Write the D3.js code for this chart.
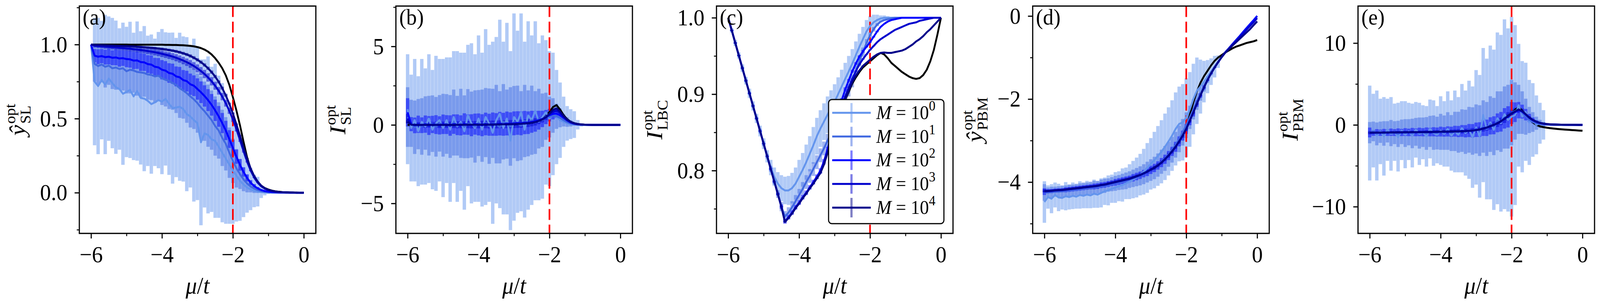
<!DOCTYPE html>
<html><head><meta charset="utf-8">
<script src="https://cdn.jsdelivr.net/npm/d3@7"></script>
<style>html,body{margin:0;padding:0;background:#fff;overflow:hidden}svg{display:block;width:100vw;height:100vh}text{font-family:'Liberation Serif','DejaVu Serif',serif}</style>
</head><body><svg id="chart" viewBox="0 0 4397 784" preserveAspectRatio="none"></svg>
<script>
// ---------------- DATA ----------------
const xs = [-6.0,-5.9,-5.8,-5.7,-5.6,-5.5,-5.4,-5.3,-5.2,-5.1,-5.0,-4.9,-4.8,-4.7,-4.6,-4.5,-4.4,-4.3,-4.2,-4.1,-4.0,-3.9,-3.8,-3.7,-3.6,-3.5,-3.4,-3.3,-3.2,-3.1,-3.0,-2.9,-2.8,-2.7,-2.6,-2.5,-2.4,-2.3,-2.2,-2.1,-2.0,-1.9,-1.8,-1.7,-1.6,-1.5,-1.4,-1.3,-1.2,-1.1,-1.0,-0.9,-0.8,-0.7,-0.6,-0.5,-0.4,-0.3,-0.2,-0.1,0.0];
const seriesLabels = ["0","1","2","3","4"]; // M = 10^k
const criticalMu = -2;
const xTicks = [-6,-4,-2,0];
const xMinorTicks = [-5,-3,-1];

// (a) y_SL
const aExact = [1.0,
1.0,1.0,1.0,1.0,1.0,1.0,1.0,1.0,1.0,1.0,
0.999,0.999,0.999,0.999,0.999,0.999,0.999,0.999,0.999,0.999,
0.998,0.998,0.997,0.997,0.996,0.995,0.993,0.991,0.988,0.983,
0.976,0.966,0.952,0.933,0.908,0.877,0.840,0.792,0.728,0.645,
0.555,0.455,0.345,0.240,0.160,0.105,0.070,0.047,0.031,0.021,
0.014,0.009,0.006,0.004,0.003,0.002,0.001,0.001,0,0];
const aM0 = [1.0,
0.750,0.720,0.760,0.730,0.770,0.740,0.712,0.700,0.668,0.680,
0.694,0.650,0.686,0.640,0.635,0.620,0.598,0.610,0.625,0.615,
0.633,0.600,0.571,0.575,0.580,0.565,0.530,0.515,0.490,0.470,
0.340,0.400,0.390,0.360,0.350,0.310,0.270,0.230,0.190,0.150,
0.115,0.080,0.055,0.035,0.022,0.012,0.007,0.004,0.002,0.001,
0,0,0,0,0,0,0,0,0,0];
const aM1 = [1.0,
0.870,0.855,0.865,0.850,0.858,0.840,0.845,0.835,0.840,0.820,
0.830,0.825,0.815,0.812,0.808,0.798,0.795,0.785,0.790,0.772,
0.762,0.755,0.740,0.728,0.705,0.690,0.672,0.650,0.630,0.605,
0.575,0.550,0.520,0.490,0.450,0.420,0.370,0.330,0.270,0.215,
0.165,0.125,0.090,0.062,0.042,0.028,0.018,0.011,0.007,0.004,
0.003,0.002,0.001,0.001,0,0,0,0,0,0];
const aM2 = [1.0,
0.925,0.918,0.922,0.915,0.918,0.911,0.913,0.906,0.908,0.902,
0.900,0.892,0.893,0.882,0.880,0.868,0.865,0.850,0.846,0.830,
0.824,0.808,0.803,0.785,0.779,0.760,0.753,0.732,0.722,0.700,
0.678,0.653,0.625,0.593,0.556,0.515,0.470,0.420,0.362,0.302,
0.243,0.188,0.140,0.100,0.068,0.045,0.029,0.018,0.011,0.007,
0.004,0.003,0.002,0.001,0.001,0,0,0,0,0];
const aM3 = [1.0,
0.992,0.990,0.988,0.986,0.984,0.982,0.980,0.978,0.976,0.974,
0.972,0.969,0.966,0.963,0.960,0.956,0.952,0.948,0.943,0.938,
0.932,0.926,0.919,0.911,0.902,0.892,0.881,0.869,0.855,0.839,
0.821,0.801,0.778,0.752,0.722,0.688,0.649,0.604,0.553,0.495,
0.428,0.355,0.280,0.210,0.150,0.102,0.067,0.043,0.027,0.017,
0.011,0.007,0.004,0.003,0.002,0.001,0.001,0,0,0];
const aM4 = [1.0,
0.998,0.997,0.996,0.995,0.994,0.993,0.992,0.991,0.990,0.989,
0.988,0.987,0.985,0.984,0.982,0.980,0.978,0.976,0.973,0.970,
0.967,0.963,0.959,0.954,0.948,0.941,0.933,0.923,0.911,0.897,
0.881,0.862,0.840,0.814,0.784,0.748,0.706,0.657,0.600,0.535,
0.462,0.385,0.305,0.230,0.165,0.113,0.075,0.048,0.030,0.019,
0.012,0.007,0.004,0.003,0.002,0.001,0.001,0,0,0];
const aE0 = [0,
0.43,0.46,0.40,0.47,0.42,0.44,0.45,0.41,0.48,0.44,
0.46,0.43,0.47,0.45,0.49,0.44,0.47,0.43,0.46,0.49,
0.45,0.48,0.51,0.47,0.50,0.49,0.52,0.48,0.55,0.52,
0.56,0.50,0.53,0.49,0.52,0.48,0.47,0.44,0.40,0.36,
0.31,0.27,0.22,0.17,0.14,0.11,0.10,0.04,0.02,0.01,
0,0,0,0,0,0,0,0,0,0];
const aE1 = [0,
0.12,0.13,0.12,0.14,0.13,0.14,0.15,0.14,0.15,0.15,
0.16,0.15,0.16,0.17,0.16,0.17,0.17,0.18,0.17,0.18,
0.18,0.19,0.18,0.19,0.20,0.19,0.20,0.21,0.20,0.20,
0.21,0.20,0.21,0.20,0.20,0.19,0.19,0.18,0.17,0.15,
0.13,0.10,0.08,0.06,0.04,0.03,0.02,0.01,0.005,0,
0,0,0,0,0,0,0,0,0,0];
const aE2 = [0,
0.045,0.050,0.048,0.050,0.052,0.050,0.053,0.055,0.052,0.055,
0.056,0.058,0.057,0.060,0.058,0.060,0.062,0.060,0.063,0.065,
0.064,0.066,0.068,0.067,0.070,0.068,0.070,0.072,0.070,0.072,
0.073,0.072,0.074,0.073,0.072,0.070,0.068,0.065,0.060,0.055,
0.048,0.040,0.032,0.024,0.017,0.012,0.008,0.005,0.003,0.002,
0,0,0,0,0,0,0,0,0,0];
const aE3 = [0,
0.012,0.013,0.013,0.014,0.014,0.015,0.015,0.016,0.016,0.017,
0.017,0.018,0.018,0.019,0.019,0.020,0.020,0.021,0.021,0.022,
0.022,0.023,0.023,0.024,0.024,0.025,0.025,0.026,0.026,0.027,
0.027,0.028,0.028,0.028,0.027,0.026,0.025,0.023,0.021,0.018,
0.015,0.012,0.009,0.007,0.005,0.003,0.002,0.001,0,0,
0,0,0,0,0,0,0,0,0,0];
const aE4 = [0,
0.004,0.004,0.004,0.005,0.005,0.005,0.005,0.006,0.006,0.006,
0.006,0.007,0.007,0.007,0.007,0.008,0.008,0.008,0.008,0.009,
0.009,0.009,0.009,0.010,0.010,0.010,0.010,0.011,0.011,0.011,
0.011,0.011,0.011,0.011,0.011,0.010,0.010,0.009,0.008,0.007,
0.006,0.005,0.004,0.003,0.002,0.001,0.001,0,0,0,
0,0,0,0,0,0,0,0,0,0];

// (b) I_SL
const bExact = [0,
0,0,0,0,0,0,0,0,0,0,
0,0,0,0.005,0.005,0.005,0.01,0.01,0.01,0.01,
0.015,0.015,0.02,0.02,0.025,0.03,0.035,0.04,0.045,0.05,
0.06,0.07,0.09,0.11,0.14,0.19,0.26,0.37,0.55,0.82,
1.14,1.26,0.98,0.62,0.36,0.20,0.11,0.06,0.03,0.015,
0.008,0.004,0.002,0.001,0,0,0,0,0,0];
const bM0 = [1.0,
-0.2,0.3,-0.4,0.2,-0.1,0.4,-0.3,0.1,0.3,-0.2,
0.3,-0.3,0.5,-0.1,0.2,-0.4,0.6,0.1,-0.2,0.4,
-0.3,0.5,0.1,-0.5,0.3,0.7,-0.2,0.4,-1.0,0.5,
0.2,0.8,-0.3,0.6,0.3,0.9,0.2,0.5,0.8,0.4,
0.7,0.5,0.3,0.2,0.1,0.05,0.02,0.01,0,0,
0,0,0,0,0,0,0,0,0,0];
const bM1 = [0.5,
0.10,-0.15,0.05,-0.10,0.12,-0.05,0.08,-0.12,0.10,-0.02,
0.06,-0.10,0.15,-0.05,0.10,-0.12,0.08,0.02,-0.10,0.12,
-0.05,0.15,-0.08,0.10,0.05,-0.15,0.20,0.05,-0.10,0.18,
0.10,-0.05,0.25,0.10,0.30,0.15,0.40,0.30,0.55,0.50,
0.60,0.55,0.45,0.30,0.18,0.10,0.05,0.02,0.01,0,
0,0,0,0,0,0,0,0,0,0];
const bM2 = [0.8,
0.05,-0.03,0.04,-0.02,0.05,-0.04,0.03,0.02,-0.03,0.04,
0.02,-0.04,0.05,0.01,-0.03,0.06,0.02,-0.02,0.05,0.03,
-0.02,0.06,0.01,0.05,0.03,0.08,0.04,0.09,0.06,0.10,
0.12,0.10,0.15,0.14,0.20,0.23,0.30,0.38,0.50,0.62,
0.70,0.72,0.62,0.45,0.28,0.15,0.08,0.04,0.02,0.01,
0.005,0.002,0,0,0,0,0,0,0,0];
const bM3 = [0.4,
0.02,0.01,0,0.01,0,0.01,0,0.01,0,0.01,
0.01,0,0.01,0.01,0.01,0.01,0.02,0.01,0.02,0.02,
0.02,0.03,0.02,0.03,0.03,0.04,0.04,0.05,0.05,0.06,
0.07,0.08,0.10,0.12,0.15,0.19,0.26,0.35,0.48,0.65,
0.84,0.90,0.76,0.52,0.31,0.18,0.10,0.05,0.025,0.012,
0.006,0.003,0.001,0,0,0,0,0,0,0];
const bM4 = [0.2,
0.01,0,0,0,0,0,0,0,0,0,
0,0,0,0.005,0.005,0.005,0.01,0.01,0.01,0.01,
0.015,0.015,0.02,0.02,0.025,0.03,0.035,0.04,0.045,0.05,
0.06,0.07,0.09,0.11,0.14,0.18,0.25,0.35,0.50,0.72,
0.96,1.05,0.85,0.56,0.33,0.19,0.10,0.05,0.025,0.012,
0.006,0.003,0.001,0,0,0,0,0,0,0];
const bE0 = [3.5,
3.4,3.9,3.5,4.0,3.7,4.1,3.8,4.3,3.9,4.4,
4.0,4.6,4.2,4.8,4.4,5.0,4.5,5.1,4.7,5.3,
4.9,5.6,5.0,5.8,5.3,6.0,5.5,6.1,5.7,6.6,
5.8,6.3,5.6,6.0,5.4,5.7,5.0,5.2,4.6,4.3,
3.9,3.0,2.4,1.6,1.1,0.95,0.85,0.3,0.1,0,
0,0,0,0,0,0,0,0,0,0];
const bE1 = [1.9,
1.5,1.7,1.6,1.8,1.7,1.9,1.8,1.9,1.8,2.0,
1.9,2.0,2.1,1.9,2.2,2.0,2.2,2.1,2.3,2.1,
2.3,2.2,2.4,2.2,2.5,2.3,2.4,2.2,2.5,2.3,
2.4,2.2,2.3,2.1,2.2,2.0,1.9,1.7,1.5,1.3,
1.1,0.8,0.6,0.4,0.3,0.2,0.1,0.05,0,0,
0,0,0,0,0,0,0,0,0,0];
const bE2 = [0.9,
0.45,0.50,0.55,0.50,0.55,0.60,0.55,0.60,0.58,0.62,
0.60,0.65,0.62,0.66,0.64,0.68,0.65,0.70,0.67,0.70,
0.70,0.72,0.70,0.74,0.72,0.75,0.73,0.76,0.74,0.76,
0.75,0.76,0.74,0.72,0.70,0.66,0.60,0.52,0.45,0.40,
0.35,0.28,0.20,0.14,0.09,0.05,0.03,0.02,0.01,0,
0,0,0,0,0,0,0,0,0,0];
const bE3 = [0.3,
0.15,0.16,0.17,0.17,0.18,0.18,0.19,0.19,0.20,0.20,
0.20,0.21,0.21,0.22,0.22,0.22,0.23,0.23,0.23,0.24,
0.24,0.24,0.25,0.25,0.25,0.25,0.26,0.26,0.26,0.26,
0.26,0.26,0.25,0.25,0.24,0.23,0.21,0.19,0.17,0.15,
0.13,0.10,0.08,0.06,0.04,0.03,0.02,0.01,0,0,
0,0,0,0,0,0,0,0,0,0];
const bE4 = [0.1,
0.05,0.05,0.05,0.06,0.06,0.06,0.06,0.06,0.07,0.07,
0.07,0.07,0.07,0.07,0.08,0.08,0.08,0.08,0.08,0.08,
0.08,0.08,0.08,0.08,0.09,0.09,0.09,0.09,0.09,0.09,
0.09,0.09,0.09,0.09,0.08,0.08,0.07,0.07,0.06,0.05,
0.05,0.04,0.03,0.02,0.015,0.01,0.005,0,0,0,
0,0,0,0,0,0,0,0,0,0];

// (c) I_LBC
const cExact = [1.0,
0.9835,0.967,0.9506,0.9341,0.9176,0.9011,0.8846,0.8682,0.8517,0.8352,
0.8187,0.8022,0.7858,0.7693,0.7528,0.733,0.738,0.744,0.751,0.757,
0.764,0.770,0.777,0.783,0.790,0.797,0.808,0.823,0.838,0.853,
0.867,0.880,0.892,0.903,0.914,0.922,0.929,0.935,0.939,0.943,
0.947,0.951,0.954,0.952,0.947,0.941,0.937,0.933,0.929,0.926,
0.923,0.921,0.920,0.921,0.925,0.932,0.943,0.958,0.978,1.0];
const cM0 = [1.0,
0.9835,0.967,0.9506,0.9341,0.9176,0.9011,0.8846,0.8682,0.8517,0.8352,
0.8187,0.804,0.792,0.783,0.777,0.774,0.774,0.777,0.783,0.792,
0.801,0.811,0.822,0.833,0.845,0.855,0.864,0.873,0.882,0.890,
0.900,0.910,0.920,0.930,0.940,0.951,0.962,0.972,0.982,0.989,
0.994,0.997,0.999,1.0,1.0,1.0,1.0,1.0,1.0,1.0,
1.0,1.0,1.0,1.0,1.0,1.0,1.0,1.0,1.0,1.0];
const cM1 = [1.0,
0.9835,0.967,0.9506,0.9341,0.9176,0.9011,0.8846,0.8682,0.8517,0.8352,
0.8187,0.8022,0.7858,0.7693,0.7528,0.740,0.745,0.752,0.760,0.768,
0.776,0.785,0.793,0.802,0.811,0.820,0.829,0.839,0.849,0.859,
0.870,0.881,0.893,0.905,0.917,0.930,0.943,0.955,0.967,0.977,
0.985,0.991,0.995,0.997,0.998,0.999,1.0,1.0,1.0,1.0,
1.0,1.0,1.0,1.0,1.0,1.0,1.0,1.0,1.0,1.0];
const cM2 = [1.0,
0.9835,0.967,0.9506,0.9341,0.9176,0.9011,0.8846,0.8682,0.8517,0.8352,
0.8187,0.8022,0.7858,0.7693,0.7528,0.7335,0.739,0.745,0.752,0.758,
0.765,0.771,0.778,0.785,0.792,0.800,0.812,0.828,0.845,0.862,
0.877,0.892,0.906,0.918,0.930,0.940,0.949,0.956,0.962,0.968,
0.975,0.982,0.988,0.992,0.995,0.997,0.998,0.999,1.0,1.0,
1.0,1.0,1.0,1.0,1.0,1.0,1.0,1.0,1.0,1.0];
const cM3 = [1.0,
0.9835,0.967,0.9506,0.9341,0.9176,0.9011,0.8846,0.8682,0.8517,0.8352,
0.8187,0.8022,0.7858,0.7693,0.7528,0.733,0.738,0.744,0.751,0.757,
0.764,0.770,0.777,0.783,0.790,0.797,0.810,0.825,0.840,0.856,
0.870,0.884,0.897,0.909,0.920,0.930,0.939,0.946,0.952,0.958,
0.963,0.968,0.972,0.975,0.978,0.981,0.984,0.986,0.988,0.990,
0.992,0.993,0.994,0.996,0.997,0.998,0.999,1.0,1.0,1.0];
const cM4 = [1.0,
0.9835,0.967,0.9506,0.9341,0.9176,0.9011,0.8846,0.8682,0.8517,0.8352,
0.8187,0.8022,0.7858,0.7693,0.7528,0.733,0.738,0.744,0.751,0.757,
0.764,0.770,0.777,0.783,0.790,0.797,0.808,0.823,0.838,0.854,
0.869,0.882,0.894,0.905,0.916,0.924,0.931,0.937,0.941,0.945,
0.949,0.952,0.954,0.9545,0.954,0.954,0.955,0.956,0.957,0.959,
0.962,0.965,0.969,0.972,0.976,0.981,0.985,0.990,0.995,1.0];
const cE0 = [0,
0.003,0.004,0.004,0.005,0.005,0.006,0.006,0.006,0.007,0.007,
0.008,0.010,0.012,0.015,0.017,0.018,0.019,0.020,0.021,0.022,
0.022,0.023,0.023,0.024,0.024,0.024,0.024,0.024,0.023,0.023,
0.022,0.022,0.021,0.020,0.019,0.018,0.017,0.016,0.015,0.013,
0.010,0.007,0.004,0.003,0.002,0.001,0.001,0,0,0,
0,0,0,0,0,0,0,0,0,0];
const cE1 = [0,
0.001,0.001,0.001,0.002,0.002,0.002,0.002,0.002,0.003,0.003,
0.003,0.004,0.004,0.005,0.006,0.007,0.007,0.008,0.008,0.008,
0.009,0.009,0.009,0.009,0.009,0.009,0.009,0.009,0.009,0.009,
0.009,0.009,0.008,0.008,0.008,0.007,0.007,0.006,0.005,0.004,
0.003,0.002,0.001,0.001,0,0,0,0,0,0,
0,0,0,0,0,0,0,0,0,0];
const cE2 = [0,
0.001,0.001,0.001,0.001,0.001,0.001,0.001,0.001,0.001,0.001,
0.001,0.002,0.002,0.002,0.003,0.003,0.003,0.003,0.003,0.003,
0.003,0.003,0.003,0.003,0.003,0.003,0.003,0.003,0.003,0.003,
0.003,0.003,0.003,0.002,0.002,0.002,0.002,0.002,0.001,0.001,
0.001,0.001,0,0,0,0,0,0,0,0,
0,0,0,0,0,0,0,0,0,0];
const cE3 = [0,
0.0005,0.0005,0.0005,0.0005,0.0005,0.0005,0.0005,0.0005,0.0005,0.0005,
0.0005,0.001,0.001,0.001,0.001,0.001,0.001,0.001,0.001,0.001,
0.001,0.001,0.001,0.001,0.001,0.001,0.001,0.001,0.001,0.001,
0.001,0.001,0.001,0.001,0.001,0.001,0.001,0.001,0.0005,0.0005,
0.0005,0,0,0,0,0,0,0,0,0,
0,0,0,0,0,0,0,0,0,0];
const cE4 = [0,
0.0003,0.0003,0.0003,0.0003,0.0003,0.0003,0.0003,0.0003,0.0003,0.0003,
0.0003,0.0003,0.0003,0.0003,0.0003,0.0003,0.0003,0.0003,0.0003,0.0003,
0.0003,0.0003,0.0003,0.0003,0.0003,0.0003,0.0003,0.0003,0.0003,0.0003,
0.0003,0.0003,0.0003,0.0003,0.0003,0.0003,0.0003,0.0003,0.0003,0.0003,
0,0,0,0,0,0,0,0,0,0,
0,0,0,0,0,0,0,0,0,0];

// (d) y_PBM
const dExact = [-4.22,
-4.215,-4.21,-4.20,-4.195,-4.19,-4.18,-4.17,-4.16,-4.15,-4.14,
-4.13,-4.12,-4.11,-4.10,-4.09,-4.07,-4.06,-4.04,-4.02,-4.00,
-3.98,-3.96,-3.94,-3.92,-3.89,-3.86,-3.83,-3.79,-3.75,-3.70,
-3.65,-3.59,-3.52,-3.44,-3.35,-3.25,-3.13,-2.99,-2.84,-2.68,
-2.38,-2.08,-1.82,-1.61,-1.45,-1.32,-1.19,-1.08,-1.00,-0.94,
-0.88,-0.83,-0.78,-0.74,-0.71,-0.68,-0.65,-0.63,-0.61,-0.58];
const dM0 = [-4.48,
-4.36,-4.40,-4.31,-4.37,-4.38,-4.34,-4.36,-4.33,-4.35,-4.31,
-4.33,-4.30,-4.32,-4.28,-4.30,-4.26,-4.22,-4.20,-4.16,-4.13,
-4.10,-4.07,-4.03,-3.99,-3.94,-3.89,-3.82,-3.75,-3.66,-3.56,
-3.47,-3.37,-3.27,-3.15,-3.02,-2.88,-2.72,-2.60,-2.56,-2.45,
-2.25,-2.00,-1.80,-1.70,-1.58,-1.46,-1.34,-1.22,-1.10,-0.99,
-0.875,-0.78,-0.68,-0.585,-0.49,-0.39,-0.29,-0.195,-0.10,0.0];
const dM1 = [-4.25,
-4.25,-4.24,-4.23,-4.23,-4.22,-4.21,-4.20,-4.19,-4.18,-4.17,
-4.16,-4.15,-4.14,-4.13,-4.12,-4.10,-4.09,-4.07,-4.05,-4.03,
-4.01,-3.99,-3.97,-3.94,-3.91,-3.88,-3.85,-3.81,-3.76,-3.71,
-3.66,-3.59,-3.51,-3.43,-3.33,-3.22,-3.10,-2.96,-2.80,-2.63,
-2.44,-2.25,-2.06,-1.88,-1.70,-1.53,-1.38,-1.24,-1.11,-0.99,
-0.875,-0.78,-0.68,-0.585,-0.49,-0.39,-0.29,-0.195,-0.10,0.0];
const dM2 = [-4.23,
-4.22,-4.215,-4.205,-4.20,-4.195,-4.185,-4.175,-4.165,-4.155,-4.145,
-4.135,-4.125,-4.115,-4.105,-4.095,-4.075,-4.065,-4.045,-4.025,-4.005,
-3.985,-3.965,-3.945,-3.925,-3.895,-3.865,-3.835,-3.795,-3.755,-3.705,
-3.66,-3.60,-3.53,-3.45,-3.36,-3.26,-3.15,-3.02,-2.88,-2.72,
-2.52,-2.32,-2.11,-1.91,-1.72,-1.54,-1.38,-1.24,-1.11,-0.99,
-0.875,-0.78,-0.68,-0.585,-0.49,-0.39,-0.29,-0.195,-0.10,0.0];
const dM3 = [-4.21,
-4.21,-4.205,-4.195,-4.19,-4.185,-4.175,-4.165,-4.155,-4.145,-4.135,
-4.125,-4.115,-4.105,-4.095,-4.085,-4.065,-4.055,-4.035,-4.015,-3.995,
-3.975,-3.955,-3.935,-3.915,-3.885,-3.855,-3.825,-3.785,-3.745,-3.695,
-3.655,-3.595,-3.525,-3.445,-3.355,-3.255,-3.145,-3.015,-2.875,-2.715,
-2.52,-2.32,-2.11,-1.91,-1.72,-1.54,-1.38,-1.24,-1.11,-0.99,
-0.88,-0.785,-0.69,-0.60,-0.51,-0.42,-0.33,-0.24,-0.15,-0.05];
const dM4 = [-4.22,
-4.215,-4.21,-4.20,-4.195,-4.19,-4.18,-4.17,-4.16,-4.15,-4.14,
-4.13,-4.12,-4.11,-4.10,-4.09,-4.07,-4.06,-4.04,-4.02,-4.00,
-3.98,-3.96,-3.94,-3.92,-3.89,-3.86,-3.83,-3.79,-3.75,-3.70,
-3.66,-3.60,-3.53,-3.45,-3.36,-3.26,-3.15,-3.02,-2.88,-2.72,
-2.52,-2.32,-2.11,-1.91,-1.72,-1.54,-1.38,-1.24,-1.11,-0.99,
-0.885,-0.80,-0.715,-0.635,-0.555,-0.475,-0.395,-0.315,-0.22,-0.13];
const dE0 = [0.5,
0.28,0.35,0.30,0.33,0.28,0.34,0.30,0.32,0.29,0.33,
0.30,0.33,0.31,0.34,0.32,0.35,0.33,0.36,0.34,0.37,
0.36,0.40,0.38,0.42,0.45,0.48,0.50,0.55,0.60,0.62,
0.68,0.72,0.76,0.80,0.82,0.85,0.88,0.90,0.92,0.95,
0.90,0.85,0.80,0.65,0.50,0.40,0.32,0.26,0.15,0,
0,0,0,0,0,0,0,0,0,0];
const dE1 = [0.2,
0.12,0.13,0.12,0.13,0.14,0.13,0.14,0.13,0.14,0.14,
0.15,0.14,0.15,0.16,0.15,0.16,0.17,0.16,0.17,0.18,
0.18,0.19,0.20,0.20,0.21,0.22,0.23,0.24,0.25,0.26,
0.27,0.28,0.29,0.30,0.30,0.31,0.31,0.32,0.32,0.31,
0.28,0.24,0.20,0.16,0.12,0.08,0.05,0.02,0.01,0,
0,0,0,0,0,0,0,0,0,0];
const dE2 = [0.08,
0.05,0.05,0.05,0.05,0.05,0.06,0.06,0.06,0.06,0.06,
0.06,0.06,0.06,0.07,0.07,0.07,0.07,0.07,0.07,0.08,
0.08,0.08,0.08,0.08,0.09,0.09,0.09,0.09,0.10,0.10,
0.10,0.10,0.11,0.11,0.11,0.11,0.12,0.12,0.12,0.12,
0.11,0.10,0.08,0.06,0.05,0.03,0.02,0.01,0,0,
0,0,0,0,0,0,0,0,0,0];
const dE3 = [0.04,
0.02,0.02,0.02,0.02,0.02,0.03,0.03,0.03,0.03,0.03,
0.03,0.03,0.03,0.03,0.03,0.03,0.03,0.04,0.04,0.04,
0.04,0.04,0.04,0.04,0.04,0.04,0.05,0.05,0.05,0.05,
0.05,0.05,0.05,0.05,0.06,0.06,0.06,0.06,0.06,0.06,
0.05,0.05,0.04,0.03,0.02,0.015,0.01,0.005,0,0,
0,0,0,0,0,0,0,0,0,0];
const dE4 = [0.015,
0.008,0.008,0.008,0.008,0.008,0.009,0.009,0.009,0.009,0.009,
0.01,0.01,0.01,0.01,0.01,0.01,0.01,0.011,0.011,0.011,
0.011,0.012,0.012,0.012,0.012,0.013,0.013,0.013,0.014,0.014,
0.014,0.015,0.015,0.015,0.016,0.016,0.016,0.017,0.017,0.017,
0.015,0.013,0.011,0.009,0.007,0.005,0.003,0.002,0,0,
0,0,0,0,0,0,0,0,0,0];

// (e) I_PBM
const eExact = [-0.95,
-0.95,-0.94,-0.94,-0.93,-0.93,-0.92,-0.92,-0.91,-0.91,-0.90,
-0.90,-0.89,-0.89,-0.88,-0.88,-0.87,-0.86,-0.86,-0.85,-0.84,
-0.83,-0.82,-0.81,-0.80,-0.79,-0.78,-0.76,-0.73,-0.70,-0.64,
-0.56,-0.45,-0.32,-0.16,0.00,0.20,0.45,0.75,1.10,1.45,
1.85,2.15,1.75,1.20,0.70,0.30,0.00,-0.18,-0.28,-0.35,
-0.41,-0.46,-0.50,-0.54,-0.57,-0.60,-0.63,-0.66,-0.69,-0.72];
const eM0 = [-1.0,
-0.7,-1.3,-0.8,-1.4,-0.6,-1.1,-0.9,-1.5,-0.7,-1.2,
-0.8,-1.3,-0.6,-1.1,-0.9,-1.4,-0.5,-1.0,-1.2,-0.7,
-1.1,-0.5,-1.3,-0.8,-1.2,-0.4,-1.0,-0.6,-1.5,-0.3,
-1.4,1.2,-0.5,0.3,-0.6,0.8,0.2,1.3,0.6,1.0,
1.2,2.4,1.0,1.6,0.3,0.6,0.0,0.2,0.0,0.05,
0,0,0,0,0,0,0,0,0,0];
const eM1 = [-0.95,
-0.80,-1.10,-0.90,-1.05,-0.85,-1.00,-0.95,-1.10,-0.85,-1.00,
-0.90,-1.05,-0.85,-1.00,-0.90,-1.05,-0.80,-0.95,-1.00,-0.85,
-0.95,-0.75,-1.00,-0.80,-0.90,-0.70,-0.85,-0.60,-0.75,-0.50,
-0.70,-0.20,-0.50,0.10,-0.20,0.50,0.40,0.90,1.00,1.50,
1.70,1.90,1.50,1.00,0.60,0.35,0.20,0.12,0.06,0.03,
0.02,0.01,0,0,0,0,0,0,0,0];
const eM2 = [-0.93,
-0.98,-0.92,-0.96,-0.91,-0.95,-0.90,-0.94,-0.89,-0.93,-0.88,
-0.92,-0.87,-0.91,-0.86,-0.90,-0.85,-0.88,-0.84,-0.87,-0.82,
-0.86,-0.80,-0.84,-0.77,-0.81,-0.74,-0.78,-0.69,-0.72,-0.60,
-0.58,-0.40,-0.36,-0.12,-0.05,0.25,0.38,0.80,0.98,1.45,
1.55,1.80,1.62,1.25,0.85,0.55,0.36,0.22,0.14,0.08,
0.05,0.04,0.03,0.02,0.01,0.01,0.005,0,0,0];
const eM3 = [-0.96,
-0.96,-0.95,-0.95,-0.94,-0.94,-0.93,-0.92,-0.92,-0.91,-0.91,
-0.90,-0.90,-0.89,-0.89,-0.88,-0.87,-0.87,-0.86,-0.85,-0.84,
-0.84,-0.83,-0.82,-0.81,-0.79,-0.78,-0.76,-0.74,-0.70,-0.65,
-0.57,-0.46,-0.33,-0.17,-0.01,0.19,0.43,0.72,1.05,1.36,
1.62,1.84,1.68,1.28,0.88,0.58,0.38,0.24,0.15,0.09,
0.06,0.045,0.03,0.02,0.015,0.01,0.006,0.004,0.002,0];
const eM4 = [-0.95,
-0.95,-0.94,-0.94,-0.93,-0.93,-0.92,-0.92,-0.91,-0.91,-0.90,
-0.90,-0.89,-0.89,-0.88,-0.88,-0.87,-0.86,-0.86,-0.85,-0.84,
-0.83,-0.82,-0.81,-0.80,-0.79,-0.78,-0.76,-0.73,-0.70,-0.64,
-0.56,-0.45,-0.32,-0.16,0.00,0.20,0.45,0.75,1.10,1.40,
1.65,1.88,1.70,1.30,0.90,0.60,0.40,0.25,0.16,0.10,
0.07,0.05,0.035,0.025,0.018,0.012,0.008,0.005,0.002,0];
const eE0 = [5.8,
4.5,5.5,4.0,4.8,3.8,4.5,3.5,4.2,3.6,4.1,
3.5,3.9,3.4,3.8,3.3,3.7,3.6,4.0,3.5,4.2,
4.0,4.6,4.3,5.0,4.6,5.4,5.2,6.0,6.2,7.0,
7.5,8.2,8.6,9.4,9.8,10.5,10.8,11.6,11.2,12.2,
11.0,7.5,6.8,6.0,5.2,4.5,3.6,2.5,1.8,0,
0,0,0,0,0,0,0,0,0,0];
const eE1 = [1.3,
1.2,1.4,1.3,1.5,1.3,1.6,1.4,1.6,1.5,1.7,
1.6,1.8,1.7,1.9,1.8,2.0,1.9,2.1,2.0,2.2,
2.1,2.3,2.2,2.4,2.5,2.6,2.7,2.8,2.9,3.0,
3.1,3.2,3.3,3.4,3.5,3.6,3.7,3.8,3.9,4.0,
3.5,3.0,2.6,2.2,1.6,1.2,0.8,0.5,0.3,0,
0,0,0,0,0,0,0,0,0,0];
const eE2 = [0.6,
0.35,0.40,0.38,0.42,0.40,0.45,0.42,0.46,0.44,0.48,
0.46,0.50,0.48,0.52,0.50,0.54,0.52,0.56,0.55,0.60,
0.58,0.62,0.62,0.66,0.68,0.72,0.75,0.80,0.82,0.88,
0.90,0.95,1.00,1.05,1.10,1.15,1.20,1.25,1.30,1.35,
1.20,1.00,0.85,0.70,0.50,0.35,0.20,0.10,0.05,0,
0,0,0,0,0,0,0,0,0,0];
const eE3 = [0.2,
0.12,0.13,0.13,0.14,0.14,0.15,0.15,0.16,0.16,0.17,
0.17,0.18,0.18,0.19,0.19,0.20,0.20,0.21,0.21,0.22,
0.22,0.23,0.24,0.25,0.26,0.27,0.28,0.30,0.31,0.33,
0.34,0.36,0.38,0.40,0.42,0.44,0.46,0.48,0.50,0.52,
0.46,0.38,0.32,0.26,0.19,0.13,0.08,0.04,0.02,0,
0,0,0,0,0,0,0,0,0,0];
const eE4 = [0.07,
0.04,0.04,0.04,0.05,0.05,0.05,0.05,0.05,0.05,0.06,
0.06,0.06,0.06,0.06,0.06,0.07,0.07,0.07,0.07,0.07,
0.07,0.08,0.08,0.08,0.09,0.09,0.10,0.10,0.11,0.11,
0.12,0.12,0.13,0.14,0.14,0.15,0.16,0.16,0.17,0.18,
0.16,0.13,0.11,0.09,0.07,0.05,0.03,0.015,0.01,0,
0,0,0,0,0,0,0,0,0,0];

// ---------------- STYLE / LAYOUT ----------------
const colors = ["#6495ED","#4169E1","#0000FF","#0000CD","#00008B"];
const TOP = 15.5, BOT = 598, W = 650;
const xDomain = [-6.33, 0.34];
const panels = [
  {tag:"(a)", left:218, yDomain:[-0.275,1.26], yTicks:[0,0.5,1.0], yMinor:[-0.25,0.25,0.75,1.25], fmt:".1f",
   means:[aM0,aM1,aM2,aM3,aM4], errs:[aE0,aE1,aE2,aE3,aE4], exact:aExact, lab:["ŷ","opt","SL"], labRight:92},
  {tag:"(b)", left:1088, yDomain:[-6.91,7.57], yTicks:[-5,0,5], yMinor:[-2.5,2.5,7.5], fmt:"d",
   means:[bM0,bM1,bM2,bM3,bM4], errs:[bE0,bE1,bE2,bE3,bE4], exact:bExact, lab:["I","opt","SL"], labRight:972},
  {tag:"(c)", left:1969, yDomain:[0.7178,1.0153], yTicks:[0.8,0.9,1.0], yMinor:[0.75,0.85,0.95], fmt:".1f",
   means:[cM0,cM1,cM2,cM3,cM4], errs:[cE0,cE1,cE2,cE3,cE4], exact:cExact, lab:["I","opt","LBC"], labRight:1843, legend:true},
  {tag:"(d)", left:2838, yDomain:[-5.236,0.24], yTicks:[-4,-2,0], yMinor:[-5,-3,-1], fmt:"d",
   means:[dM0,dM1,dM2,dM3,dM4], errs:[dE0,dE1,dE2,dE3,dE4], exact:dExact, lab:["ŷ","opt","PBM"], labRight:2722},
  {tag:"(e)", left:3732, yDomain:[-13.27,14.53], yTicks:[-10,0,10], yMinor:[-5,5], fmt:"d",
   means:[eM0,eM1,eM2,eM3,eM4], errs:[eE0,eE1,eE2,eE3,eE4], exact:eExact, lab:["I","opt","PBM"], labRight:3589}
];

const svg = d3.select("#chart");
svg.append("rect").attr("width",4397).attr("height",784).attr("fill","#fff");
const FONT = "'Liberation Serif','DejaVu Serif',serif";
const LW = 5;

panels.forEach((p, pi) => {
  const x = d3.scaleLinear().domain(xDomain).range([p.left, p.left + W]);
  const y = d3.scaleLinear().domain(p.yDomain).range([BOT, TOP]);
  const barW = (x(xs[1]) - x(xs[0])) * 0.96;
  const clipId = "clip" + pi;
  svg.append("clipPath").attr("id", clipId).append("rect")
    .attr("x", p.left).attr("y", TOP).attr("width", W).attr("height", BOT - TOP);
  const g = svg.append("g").attr("clip-path", `url(#${clipId})`);

  p.errs.forEach((err, si) => {
    const rows = xs.map((xv, i) => ({x: xv, m: p.means[si][i], e: err[i]})).filter(d => d.e > 0);
    g.append("g").selectAll("rect").data(rows).join("rect")
      .attr("x", d => x(d.x) - barW / 2).attr("width", barW)
      .attr("y", d => y(d.m + d.e))
      .attr("height", d => Math.max(0.5, y(d.m - d.e) - y(d.m + d.e)))
      .attr("fill", colors[si]).attr("fill-opacity", 0.5);
  });

  const line = d3.line().x((d, i) => x(xs[i])).y(d => y(d));
  g.append("path").attr("d", line(p.exact)).attr("fill", "none")
    .attr("stroke", "#000").attr("stroke-width", LW).attr("stroke-linejoin", "round");

  g.append("line").attr("x1", x(criticalMu)).attr("x2", x(criticalMu)).attr("y1", TOP).attr("y2", BOT)
    .attr("stroke", "#ff0000").attr("stroke-width", 4.5).attr("stroke-dasharray", "28,12");

  p.means.forEach((m, si) => {
    g.append("path").attr("d", line(m)).attr("fill", "none")
      .attr("stroke", colors[si]).attr("stroke-width", LW).attr("stroke-linejoin", "round");
  });

  svg.append("rect").attr("x", p.left).attr("y", TOP).attr("width", W).attr("height", BOT - TOP)
    .attr("fill", "none").attr("stroke", "#000").attr("stroke-width", 3.2);

  const styleAxis = (sel, w) => {
    sel.select(".domain").remove();
    sel.attr("font-family", FONT).attr("font-size", 60);
    sel.selectAll(".tick line").attr("stroke", "#000").attr("stroke-width", w);
    sel.selectAll(".tick text").attr("fill", "#000");
  };
  svg.append("g").attr("transform", `translate(0,${BOT})`)
    .call(d3.axisBottom(x).tickValues(xTicks).tickFormat(d3.format("d")).tickSize(13).tickPadding(18).tickSizeOuter(0))
    .call(s => styleAxis(s, 3));
  svg.append("g").attr("transform", `translate(0,${BOT})`)
    .call(d3.axisBottom(x).tickValues(xMinorTicks).tickFormat("").tickSize(7).tickSizeOuter(0))
    .call(s => styleAxis(s, 2.5));
  svg.append("g").attr("transform", `translate(${p.left},0)`)
    .call(d3.axisLeft(y).tickValues(p.yTicks).tickFormat(d3.format(p.fmt)).tickSize(13).tickPadding(20).tickSizeOuter(0))
    .call(s => styleAxis(s, 3));
  svg.append("g").attr("transform", `translate(${p.left},0)`)
    .call(d3.axisLeft(y).tickValues(p.yMinor).tickFormat("").tickSize(7).tickSizeOuter(0))
    .call(s => styleAxis(s, 2.5));

  svg.append("text").attr("x", p.left + 9).attr("y", 63).attr("font-family", FONT)
    .attr("font-size", 58).text(p.tag);

  const xl = svg.append("text").attr("x", p.left + W / 2).attr("y", 752).attr("text-anchor", "middle")
    .attr("font-family", FONT).attr("font-size", 62);
  xl.append("tspan").attr("font-style", "italic").text("μ");
  xl.append("tspan").text("/");
  xl.append("tspan").attr("font-style", "italic").text("t");

  // y label (rotated, with stacked super/subscript)
  const lg = svg.append("g");
  const inner = lg.append("g");
  const main = inner.append("text").attr("font-family", FONT).attr("font-size", 62)
    .attr("font-style", "italic").text(p.lab[0]);
  const mw = main.node().getComputedTextLength();
  const sup = inner.append("text").attr("font-family", FONT).attr("font-size", 40)
    .attr("x", mw + 3).attr("y", -27).text(p.lab[1]);
  const sub = inner.append("text").attr("font-family", FONT).attr("font-size", 40)
    .attr("x", mw + 3).attr("y", 15).text(p.lab[2]);
  const tot = mw + 3 + Math.max(sup.node().getComputedTextLength(), sub.node().getComputedTextLength());
  inner.attr("transform", `translate(${-tot / 2},0)`);
  const bb = inner.node().getBBox();
  const cy = (TOP + BOT) / 2;
  lg.attr("transform", `translate(${p.labRight - (bb.y + bb.height)},${cy}) rotate(-90)`);

  if (p.legend) {
    const L = p.left;
    const box = svg.append("g");
    box.append("rect").attr("x", L + 308).attr("y", 255).attr("width", 317).attr("height", 318)
      .attr("rx", 9).attr("fill", "#fff").attr("stroke", "#000").attr("stroke-width", 3);
    seriesLabels.forEach((k, i) => {
      const yy = 289 + i * 60.75;
      box.append("rect").attr("x", L + 368).attr("width", 6).attr("y", yy - 25).attr("height", 50)
        .attr("fill", colors[i]).attr("fill-opacity", 0.5);
      box.append("line").attr("x1", L + 318).attr("x2", L + 424).attr("y1", yy).attr("y2", yy)
        .attr("stroke", colors[i]).attr("stroke-width", LW);
      const t = box.append("text").attr("x", L + 439).attr("y", yy + 16).attr("font-family", FONT).attr("font-size", 50);
      t.append("tspan").attr("font-style", "italic").text("M");
      t.append("tspan").text(" = 10");
      t.append("tspan").attr("font-size", 36).attr("dy", -22).text(k);
    });
  }
});
</script></body></html>
